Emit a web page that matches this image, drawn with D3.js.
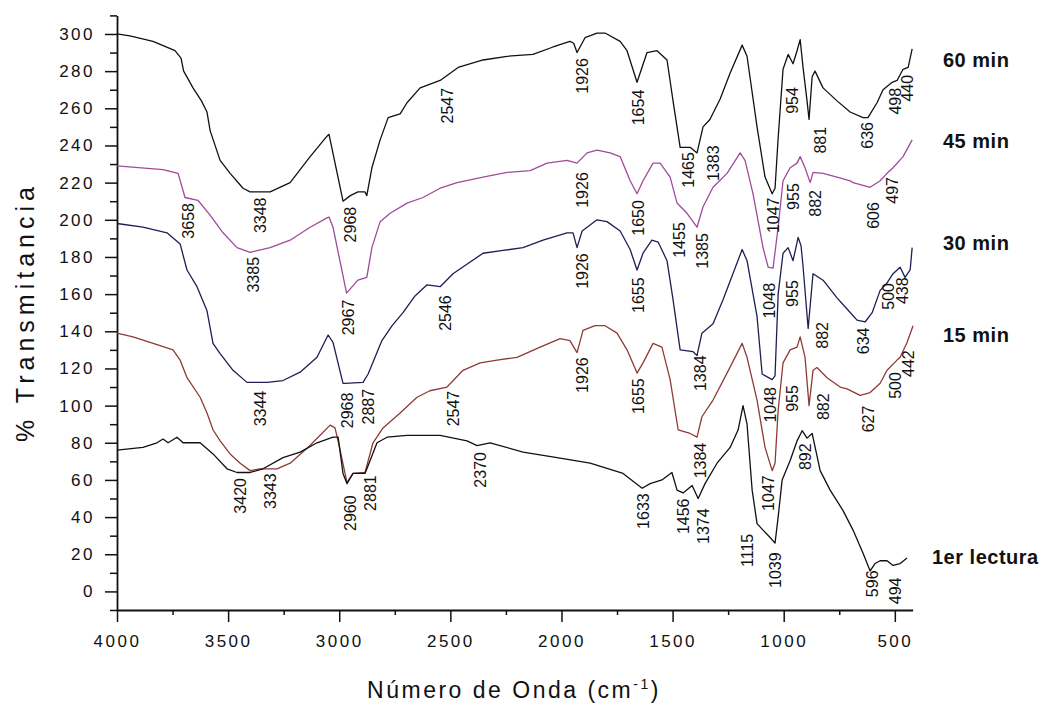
<!DOCTYPE html>
<html>
<head>
<meta charset="utf-8">
<script src="https://cdn.jsdelivr.net/npm/d3@7/dist/d3.min.js"></script>
<style>
  body { margin: 0; background: #fff; }
  svg text { font-family: "Liberation Sans", Arial, sans-serif; fill: #111; }
</style>
</head>
<body>
<div class="chart"></div>
<script>
// spectra: [wavenumber, % transmittance]
const s60 = [[4000,300],[3942,299],[3838,296],[3739,291],[3712,287],[3700,280],[3658,271],[3620,264],[3595,258],[3581,248],[3536,232],[3491,225],[3433,217],[3401,215],[3311,215],[3221,220],[3131,234],[3055,245],[3046,246],[2983,210],[2950,213],[2916,215],[2884,215],[2876,213],[2853,228],[2816,243],[2780,255],[2726,257],[2695,263],[2636,271],[2546,275],[2465,282],[2353,286],[2245,288],[2128,289],[2038,293],[1962,296],[1945,295],[1930,290],[1894,298],[1840,300.5],[1804,300.5],[1736,296],[1705,291],[1660,274],[1615,290],[1570,291],[1525,286],[1498,264],[1466,239],[1421,239],[1390,236],[1363,250],[1332,254],[1286,265],[1241,279],[1187,294],[1165,288],[1120,250],[1084,223],[1052,214],[1039,217],[1025,244],[1003,281],[980,289],[958,284],[940,291],[926,297],[913,282],[895,264],[886,254],[872,277],[859,280],[823,271],[760,264],[701,258],[643,255],[621,255],[580,263],[553,270],[512,274],[490,275],[463,281],[440,282],[422,292]];

const s45 = [[4000,229],[3793,227],[3725,225],[3694,212],[3636,210.5],[3581,202.5],[3523,193],[3460,185],[3401,182.5],[3311,185],[3221,189],[3131,196],[3055,201],[3046,201.5],[3028,196],[2967,160.5],[2916,167.5],[2876,169],[2853,185],[2816,199],[2771,203.5],[2695,209],[2623,212],[2546,217],[2470,220],[2353,223],[2245,225.5],[2141,226.5],[2065,230.5],[1975,232],[1930,230.5],[1885,236],[1840,237.5],[1781,236],[1736,234],[1691,221],[1660,214],[1633,221],[1588,230.5],[1556,230.5],[1511,223],[1480,209],[1435,203.5],[1390,196],[1363,207],[1318,217.5],[1255,225],[1196,236],[1174,232],[1138,214],[1093,185],[1070,174.5],[1048,174],[1025,196],[1003,221],[971,228],[940,230.5],[926,234],[904,228],[881,220],[868,225.5],[823,225],[760,223],[701,221],[688,220],[611,217.5],[566,221],[535,225],[508,228],[463,234],[422,243]];

const s30 = [[4000,198],[3883,196],[3775,193],[3716,187],[3685,173],[3640,164],[3595,151],[3568,133.5],[3536,128],[3478,119],[3415,112.5],[3325,112.5],[3253,113.5],[3176,118],[3100,126],[3050,138],[3028,134],[2983,112],[2974,112],[2893,112.5],[2870,117],[2808,135],[2762,143],[2713,150],[2659,159],[2605,165],[2546,164],[2488,171],[2353,182],[2263,183.5],[2173,185],[2083,189],[1975,193],[1948,193],[1930,185],[1907,194],[1840,200],[1795,199],[1736,194],[1691,184],[1660,173],[1633,182],[1593,189],[1565,188],[1525,178],[1498,157],[1466,130],[1408,129],[1390,127],[1368,139],[1318,144],[1273,157],[1187,184],[1165,178],[1120,148],[1097,117],[1052,114],[1039,116],[1025,160],[1003,182],[980,185],[958,178],[935,190.5],[922,186],[913,175],[890,141.5],[868,171],[823,167.5],[760,158],[715,152],[670,146],[634,145],[602,150],[566,162],[535,166],[508,171],[476,174.5],[454,169],[431,173],[422,185]];

const s15 = [[4000,139],[3928,137],[3851,134],[3748,130],[3716,124.5],[3685,115],[3626,104.5],[3595,96],[3568,87],[3536,81],[3491,74],[3446,69],[3401,65],[3356,66],[3280,66],[3221,69],[3145,77],[3086,84],[3041,89.5],[3019,88],[2996,76],[2965,58.5],[2938,63.5],[2884,64],[2848,80],[2803,88],[2726,96],[2650,104.5],[2592,108],[2515,110],[2443,119],[2366,123],[2290,124.5],[2200,126],[2096,131.5],[2006,136],[1962,135],[1930,128.5],[1903,140.5],[1849,143],[1804,143],[1750,139],[1705,130],[1660,117.5],[1633,123],[1588,133.5],[1548,131.5],[1511,114],[1475,87],[1421,85],[1390,83],[1368,94],[1318,103],[1255,117.5],[1187,133.5],[1165,126],[1120,103],[1084,77.5],[1052,65],[1039,69],[1025,97.5],[1003,123],[971,130],[940,131.5],[926,137],[904,126],[886,100],[868,119],[850,120.5],[805,115],[746,110],[715,109],[656,105.5],[611,107],[566,112],[535,119],[490,124.5],[476,126],[445,134],[418,143]];

const s1 = [[4000,76],[3883,77.5],[3820,80],[3793,82],[3770,80],[3730,83],[3703,80],[3626,80],[3568,74],[3505,66],[3460,64],[3401,64],[3343,66],[3253,72],[3176,75],[3100,80],[3028,83],[3005,83],[2983,63.5],[2965,58],[2938,63.5],[2884,63.5],[2861,70.5],[2830,80],[2785,83],[2695,84],[2546,84],[2425,81],[2380,78.5],[2321,80],[2173,75],[2020,72],[1871,69],[1723,63.5],[1637,55.5],[1601,58],[1548,60],[1503,64],[1480,54.5],[1453,53],[1412,57],[1385,50],[1354,58],[1300,69],[1241,77.5],[1205,87],[1183,100],[1165,90],[1142,54.5],[1120,36.5],[1093,33],[1061,29],[1039,26],[1025,40],[1007,60],[971,70.5],[940,81],[917,86.5],[895,82.5],[872,85],[836,65],[791,54.5],[733,43.5],[688,33],[643,20.5],[611,11],[589,15],[566,16.5],[535,16.5],[508,14],[476,15],[445,18]];

const seriesNames = ["60 min", "45 min", "30 min", "15 min", "1er lectura"];
const seriesData = [s60, s45, s30, s15, s1];
const seriesColors = ["#111111", "#a04a9c", "#1e1e55", "#8e3b36", "#111111"];

// peak labels: [text, wavenumber, value at top of the text]
const peakLabels = [
  ["3658",3680,209],["3348",3357,212],["3385",3388,180],["2968",2951,207],["2967",2960,157],
  ["3344",3357,108],["2968",2965,107],["2887",2870,109],["3420",3446,61],["3343",3312,63.5],
  ["2960",2951,51.7],["2881",2862,62.5],["2547",2515,271],["2546",2524,159.4],["2547",2488,108],
  ["2370",2366,75],["1926",1908,287],["1926",1908,225.6],["1926",1908,182],["1926",1908,126],
  ["1654",1656,270],["1650",1656,210.6],["1655",1656,169],["1655",1656,114.7],["1633",1633,52.8],
  ["1465",1430,236.4],["1383",1318,240],["1455",1471,198.7],["1385",1367,192.8],["1047",1048,212],
  ["955",958,219.7],["882",859,216],["954",962,271.4],["881",836,250],["636",625,252.6],
  ["498",499,271],["440",445,278],["606",598,209.5],["497",512,223],["1048",1066,166],
  ["955",962,167.5],["882",827,145],["634",643,142],["500",530,166],["438",467,169],
  ["1384",1376,127],["1048",1061,110],["955",962,111],["882",823,106.6],["627",620,100],
  ["500",499,118],["442",440,129.8],["1384",1376,80],["1456",1453,50],["1374",1363,44.7],
  ["1047",1070,62.5],["892",904,79.7],["1115",1165,31],["1039",1039,21],["596",602,11.3],
  ["494",499,7.5]
];

const xTicks = [4000, 3500, 3000, 2500, 2000, 1500, 1000, 500];
const yTicks = d3.range(0, 301, 20);

const width = 1056, height = 706;
const plot = { left: 117, right: 912.6, top: 15.4, bottom: 610 };

const svg = d3.select(".chart").append("svg")
  .attr("width", width)
  .attr("height", height);

const xScale = d3.scaleLinear().domain([4000, 420]).range([plot.left, plot.right]);
const yScale = d3.scaleLinear().domain([-10, 310]).range([plot.bottom, plot.top]);

// minor ticks first, then the labelled axes
svg.append("g")
  .attr("transform", `translate(0,${plot.bottom})`)
  .call(d3.axisBottom(xScale).tickValues(d3.range(3750, 400, -500)).tickSize(5).tickFormat(""))
  .call(g => g.select(".domain").remove());
svg.append("g")
  .attr("transform", `translate(${plot.left},0)`)
  .call(d3.axisLeft(yScale).tickValues(d3.range(-10, 311, 20)).tickSize(7).tickFormat(""))
  .call(g => g.select(".domain").remove());

svg.append("g")
  .attr("class", "axis x-axis")
  .attr("transform", `translate(0,${plot.bottom})`)
  .call(d3.axisBottom(xScale).tickValues(xTicks).tickFormat(d3.format("d"))
    .tickSize(12).tickPadding(13).tickSizeOuter(0));

svg.append("g")
  .attr("class", "axis y-axis")
  .attr("transform", `translate(${plot.left},0)`)
  .call(d3.axisLeft(yScale).tickValues(yTicks).tickFormat(d3.format("d"))
    .tickSize(12).tickPadding(10).tickSizeOuter(0));

svg.selectAll(".axis text")
  .style("font-size", "17px")
  .style("letter-spacing", "2.5px");
svg.selectAll(".tick line").attr("stroke", "#111").attr("stroke-width", 1.5);
svg.selectAll(".domain").attr("stroke", "#111").attr("stroke-width", 1.8);

// spectra
const line = d3.line()
  .x(d => xScale(d[0]))
  .y(d => yScale(d[1]));

svg.selectAll(".spectrum")
  .data(seriesData)
  .join("path")
  .attr("class", "spectrum")
  .attr("fill", "none")
  .attr("stroke", (d, i) => seriesColors[i])
  .attr("stroke-width", 1.3)
  .attr("stroke-linejoin", "round")
  .attr("d", line);

// peak labels
svg.selectAll(".peak")
  .data(peakLabels)
  .join("text")
  .attr("class", "peak")
  .attr("transform", d => `translate(${xScale(d[1])},${yScale(d[2])}) rotate(-90)`)
  .attr("text-anchor", "end")
  .attr("dy", "0.36em")
  .style("font-size", "16px")
  .text(d => d[0]);

// series names on the right
const nameY = [282, 238.6, 183.6, 134, 15];
const nameX = [943, 943, 943, 943, 932];
svg.selectAll(".series-name")
  .data(seriesNames)
  .join("text")
  .attr("class", "series-name")
  .attr("x", (d, i) => nameX[i])
  .attr("y", (d, i) => yScale(nameY[i]))
  .style("font-size", "20px")
  .style("font-weight", "bold")
  .style("letter-spacing", "0.5px")
  .text(d => d);

// axis titles
const xt = svg.append("text")
  .attr("x", 514)
  .attr("y", 698)
  .attr("text-anchor", "middle")
  .style("font-size", "23px")
  .style("letter-spacing", "2.5px");
xt.append("tspan").text("Número de Onda (cm");
xt.append("tspan").attr("dy", "-9").style("font-size", "14px").text("-1");
xt.append("tspan").attr("dy", "9").text(")");

svg.append("text")
  .attr("transform", "translate(34,312) rotate(-90)")
  .attr("text-anchor", "middle")
  .style("font-size", "25px")
  .style("letter-spacing", "5px")
  .text("% Transmitancia");
</script>
</body>
</html>
